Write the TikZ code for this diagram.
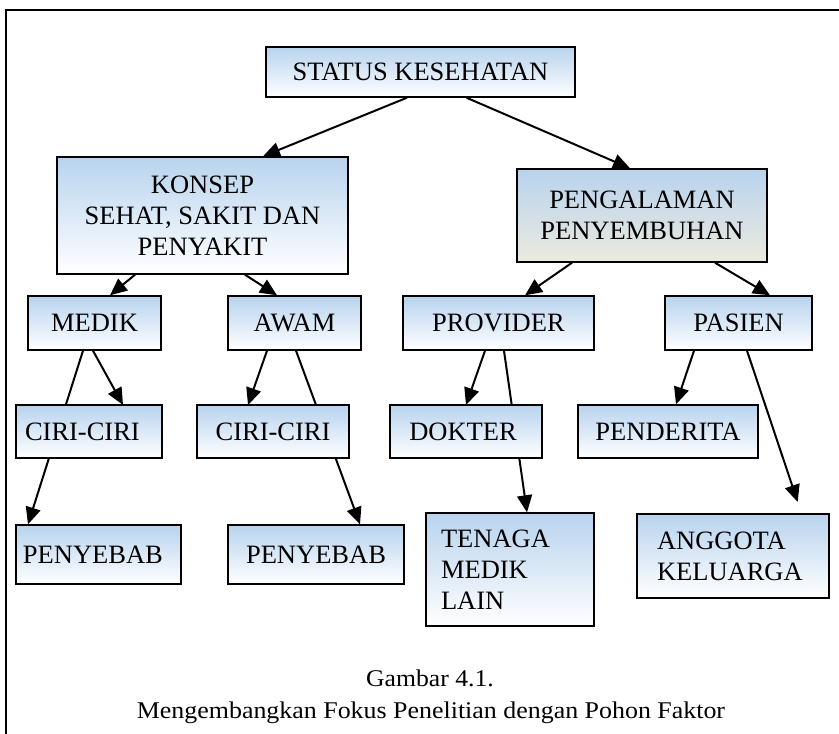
\documentclass[tikz,border=0pt]{standalone}
\usepackage{fontspec}
\setmainfont{Liberation Serif}
\usetikzlibrary{arrows.meta,shadings}
\definecolor{bblue}{RGB}{184,211,238}
\definecolor{bbeige}{RGB}{236,234,222}
\newcommand{\boxfont}{\fontsize{26.5}{31}\selectfont}
\tikzset{
  box/.style={draw=black, line width=1.4pt, top color=bblue, bottom color=white,
    inner sep=0pt, font=\boxfont, align=center},
  conn/.style={line width=2pt, -{Triangle[length=17pt,width=15pt]}},
}
\begin{document}
\begin{tikzpicture}[x=1pt,y=-1pt]
\useasboundingbox (0,0) rectangle (839,734);
\draw[line width=1.6pt] (6,734) -- (6,10) -- (839,10);

\path
 node[box, minimum width=309, minimum height=50] (status) at (420.5,72) {STATUS KESEHATAN}
 node[box, minimum width=291, minimum height=117] (konsep) at (202.5,215.5) {KONSEP\\SEHAT, SAKIT DAN\\PENYAKIT}
 node[box, bottom color=bbeige, minimum width=250, minimum height=93] (pengal) at (642,215.5) {PENGALAMAN\\PENYEMBUHAN}
 node[box, minimum width=133, minimum height=54] (medik) at (94.5,323) {MEDIK}
 node[box, minimum width=133, minimum height=54] (awam) at (294.5,323) {AWAM}
 node[box, minimum width=191, minimum height=54] (provider) at (498.5,323) {PROVIDER}
 node[box, minimum width=147, minimum height=54] (pasien) at (738.5,323) {PASIEN};

\draw[conn] ([xshift=-13.5pt]status.south) -- ([xshift=60.5pt]konsep.north);
\draw[conn] ([xshift=46pt]status.south) -- ([xshift=-12pt]pengal.north);
\draw[conn] ([xshift=-67.5pt]konsep.south) -- ([xshift=15.5pt]medik.north);
\draw[conn] ([xshift=42.5pt]konsep.south) -- ([xshift=-17.5pt]awam.north);
\draw[conn] ([xshift=-70pt]pengal.south) -- ([xshift=26.5pt]provider.north);
\draw[conn] ([xshift=73pt]pengal.south) -- ([xshift=31.5pt]pasien.north);

\path
 node[box, minimum width=165, minimum height=59, inner xsep=7pt, text width=151pt, align=left] (penyebab1) at (98.5,554.5) {PENYEBAB}
 node[box, minimum width=176, minimum height=59] (penyebab2) at (316,554.5) {PENYEBAB}
 node[box, minimum width=168, minimum height=113, inner xsep=15pt, text width=138pt, align=left] (tenaga) at (510,569.5) {TENAGA\\MEDIK\\LAIN}
 node[box, minimum width=192, minimum height=84, inner xsep=20pt, text width=152pt, align=left] (anggota) at (733,556) {ANGGOTA\\KELUARGA}
 node[box, minimum width=180, minimum height=53] (penderita) at (668,431.5) {PENDERITA};

% coordinates of the third-row boxes (drawn after the lines that pass behind them)
\coordinate (ciri1c) at (89,431.5);
\coordinate (ciri2c) at (273,431.5);
\coordinate (dokterc) at (466,431.5);
\coordinate (ciri1n) at (89,405);
\coordinate (ciri2n) at (273,405);
\coordinate (doktern) at (466,405);

\draw[conn] ([xshift=-11.5pt]medik.south) -- ([xshift=-70.5pt]penyebab1.north);
\draw[conn] ([xshift=-1.5pt]medik.south) -- ([xshift=34pt]ciri1n);
\draw[conn] ([xshift=-27.5pt]awam.south) -- ([xshift=-25pt]ciri2n);
\draw[conn] ([xshift=1.5pt]awam.south) -- ([xshift=44pt]penyebab2.north);
\draw[conn] ([xshift=-13.5pt]provider.south) -- ([xshift=0pt]doktern);
\draw[conn] ([xshift=5.5pt]provider.south) -- ([xshift=17pt]tenaga.north);
\draw[conn] ([xshift=-44.5pt]pasien.south) -- ([xshift=8pt]penderita.north);
\draw[conn, shorten >=12pt] ([xshift=8.5pt]pasien.south) -- ([xshift=68.5pt]anggota.north);

\path
 node[box, minimum width=146, minimum height=53, inner xsep=9pt, text width=128pt, align=left] (ciri1) at (ciri1c) {CIRI-CIRI}
 node[box, minimum width=152, minimum height=53] (ciri2) at (ciri2c) {CIRI-CIRI}
 node[box, minimum width=152, minimum height=53] (dokter) at (dokterc) {DOKTER\hspace{6pt}};

\node[anchor=base, font=\fontsize{24}{30}\selectfont] (cap1) at (430,686) {\scalebox{1.07}[1]{Gambar 4.1.}};
\node[anchor=base, font=\fontsize{24}{30}\selectfont] (cap2) at (431,718) {\scalebox{1.08}[1]{Mengembangkan Fokus Penelitian dengan Pohon Faktor}};
\end{tikzpicture}
\end{document}
